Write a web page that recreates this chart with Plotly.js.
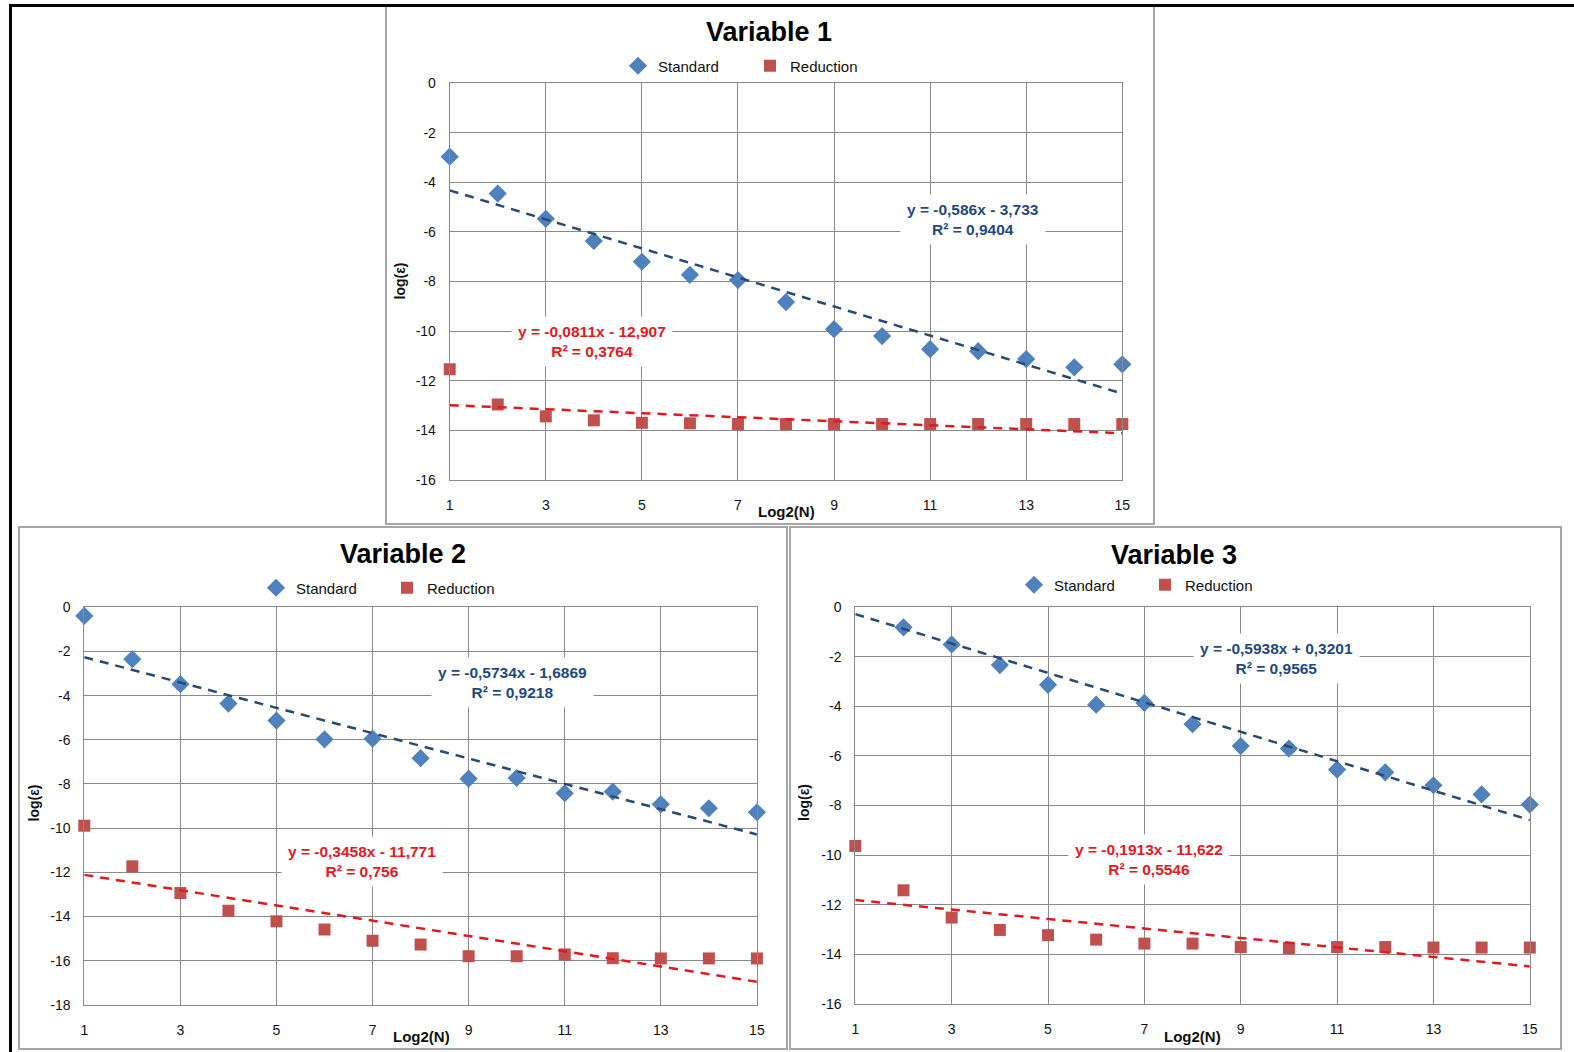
<!DOCTYPE html>
<html>
<head>
<meta charset="utf-8">
<script src="https://cdn.plot.ly/plotly-3.0.1.min.js"></script>
<style>
html,body{margin:0;padding:0;background:#fff;}
#chart{width:1574px;height:1052px;}
</style>
</head>
<body>
<div id="chart"></div>
<script>
// ---------------- DATA ----------------
const xLog2N = [1,2,3,4,5,6,7,8,9,10,11,12,13,14,15];

const titles = ['Variable 1','Variable 2','Variable 3'];
const seriesNames = ['Standard','Reduction'];

const v1Standard  = [-2.96,-4.45,-5.47,-6.36,-7.20,-7.73,-7.94,-8.83,-9.92,-10.20,-10.73,-10.81,-11.13,-11.46,-11.34];
const v1Reduction = [-11.54,-12.96,-13.44,-13.60,-13.70,-13.72,-13.75,-13.75,-13.75,-13.75,-13.75,-13.75,-13.75,-13.75,-13.75];

const v2Standard  = [-0.39,-2.35,-3.48,-4.36,-5.13,-5.98,-5.95,-6.83,-7.76,-7.73,-8.42,-8.35,-8.92,-9.10,-9.28];
const v2Reduction = [-9.89,-11.73,-12.94,-13.74,-14.22,-14.59,-15.10,-15.27,-15.80,-15.80,-15.72,-15.89,-15.90,-15.90,-15.90];

const v3Standard  = [1.00,-0.81,-1.50,-2.33,-3.13,-3.93,-3.86,-4.72,-5.60,-5.70,-6.55,-6.66,-7.18,-7.55,-7.96];
const v3Reduction = [-9.63,-11.42,-12.52,-13.02,-13.23,-13.41,-13.57,-13.57,-13.71,-13.75,-13.71,-13.71,-13.73,-13.73,-13.73];

// linear trendlines shown on the chart: [slope, intercept]
const v1TrendStandard  = [-0.586, -3.733];
const v1TrendReduction = [-0.0811, -12.907];
const v2TrendStandard  = [-0.5734, -1.6869];
const v2TrendReduction = [-0.3458, -11.771];
const v3TrendStandard  = [-0.5938, 0.3201];
const v3TrendReduction = [-0.1913, -11.622];

const v1LabelStandard  = 'y = -0,586x - 3,733<br>R² = 0,9404';
const v1LabelReduction = 'y = -0,0811x - 12,907<br>R² = 0,3764';
const v2LabelStandard  = 'y = -0,5734x - 1,6869<br>R² = 0,9218';
const v2LabelReduction = 'y = -0,3458x - 11,771<br>R² = 0,756';
const v3LabelStandard  = 'y = -0,5938x + 0,3201<br>R² = 0,9565';
const v3LabelReduction = 'y = -0,1913x - 11,622<br>R² = 0,5546';

const xTickVals = [1,3,5,7,9,11,13,15];
const xTickText = ['1','3','5','7','9','11','13','15'];
const yTickVals16 = [0,-2,-4,-6,-8,-10,-12,-14,-16];
const yTickText16 = ['0','-2','-4','-6','-8','-10','-12','-14','-16'];
const yTickVals18 = [0,-2,-4,-6,-8,-10,-12,-14,-16,-18];
const yTickText18 = ['0','-2','-4','-6','-8','-10','-12','-14','-16','-18'];

const xTitle = 'Log2(N)';
const yTitle = 'log(ε)';

// ---------------- STYLE / LAYOUT ----------------
const W = 1574, H = 1052;
const fx = p => p / W;
const fy = p => 1 - p / H;
const FONT = 'Liberation Sans Narrow, Arial Narrow, Liberation Sans, Arial, sans-serif';
const GRID = '#8a8a8a';
const BLUE = '#4F81BD', RED = '#C0504D';
const TBLUE = '#2A4A73', TRED = '#E3191E';
const LBLUE = '#1F497D', LRED = '#E3191E';

const panels = [
  {std: v1Standard, red: v1Reduction, tS: v1TrendStandard, tR: v1TrendReduction,
   lS: v1LabelStandard, lR: v1LabelReduction,
   plot: [449.7, 1122.3, 83.3, 479.8], yr: [-16, 0], yv: yTickVals16, yt: yTickText16,
   box: [386, 1154, 5, 524], title: [769, 32], leg: [618, 666, 750, 66],
   labS: [973, 219.5], labR: [592, 341.5], xt: [786, 512], yt2: [399.5, 281]},
  {std: v2Standard, red: v2Reduction, tS: v2TrendStandard, tR: v2TrendReduction,
   lS: v2LabelStandard, lR: v2LabelReduction,
   plot: [84.3, 756.9, 607.3, 1004.8], yr: [-18, 0], yv: yTickVals18, yt: yTickText18,
   box: [19, 787, 527, 1049], title: [402.5, 554], leg: [256, 304, 387, 588],
   labS: [512, 682], labR: [361.5, 861], xt: [421.5, 1036], yt2: [33.5, 803]},
  {std: v3Standard, red: v3Reduction, tS: v3TrendStandard, tR: v3TrendReduction,
   lS: v3LabelStandard, lR: v3LabelReduction,
   plot: [855.3, 1529.8, 607.3, 1003.8], yr: [-16, 0], yv: yTickVals16, yt: yTickText16,
   box: [790, 1561, 527, 1049], title: [1173.5, 555], leg: [1014, 1062, 1145, 585],
   labS: [1276, 658], labR: [1148.5, 859], xt: [1192.5, 1036], yt2: [804, 803]}
];

const traces = [];
const layout = {
  width: W, height: H,
  margin: {l: 0, r: 0, t: 0, b: 0},
  paper_bgcolor: '#ffffff', plot_bgcolor: '#ffffff',
  font: {family: FONT, color: '#000000', size: 14},
  showlegend: true,
  annotations: [], shapes: []
};

let legIdx = 1;
panels.forEach((p, i) => {
  const n = i === 0 ? '' : String(i + 1);
  const xa = 'x' + n, ya = 'y' + n;
  const lgA = legIdx === 1 ? 'legend' : 'legend' + legIdx;
  const lgB = 'legend' + (legIdx + 1);
  legIdx += 2;

  traces.push({
    type: 'scatter', mode: 'markers', x: xLog2N, y: p.std, name: seriesNames[0],
    xaxis: xa, yaxis: ya, legend: lgA, cliponaxis: false,
    marker: {symbol: 'diamond', size: 14, color: BLUE}
  });
  traces.push({
    type: 'scatter', mode: 'markers', x: xLog2N, y: p.red, name: seriesNames[1],
    xaxis: xa, yaxis: ya, legend: lgB, cliponaxis: false,
    marker: {symbol: 'square', size: 12, color: RED}
  });
  const x0 = xLog2N[0], x1 = xLog2N[xLog2N.length - 1];
  traces.push({
    type: 'scatter', mode: 'lines', x: [x0, x1], y: [p.tS[0]*x0 + p.tS[1], p.tS[0]*x1 + p.tS[1]],
    xaxis: xa, yaxis: ya, showlegend: false, hoverinfo: 'skip',
    line: {color: TBLUE, width: 2.5, dash: '9px,7px'}
  });
  traces.push({
    type: 'scatter', mode: 'lines', x: [x0, x1], y: [p.tR[0]*x0 + p.tR[1], p.tR[0]*x1 + p.tR[1]],
    xaxis: xa, yaxis: ya, showlegend: false, hoverinfo: 'skip',
    line: {color: TRED, width: 2.5, dash: '9px,7px'}
  });

  layout['xaxis' + n] = {
    domain: [fx(p.plot[0]), fx(p.plot[1])], anchor: ya,
    range: [1, 15], tickvals: xTickVals, ticktext: xTickText,
    showgrid: true, gridcolor: GRID, gridwidth: 1,
    showline: true, linecolor: GRID, linewidth: 1, mirror: true,
    zeroline: false, ticks: '', tickfont: {size: 14, family: FONT, color: '#111'},
    ticklabelstandoff: 12, fixedrange: true
  };
  layout['yaxis' + n] = {
    domain: [fy(p.plot[3]), fy(p.plot[2])], anchor: xa,
    range: p.yr, tickvals: p.yv, ticktext: p.yt,
    showgrid: true, gridcolor: GRID, gridwidth: 1,
    showline: true, linecolor: GRID, linewidth: 1, mirror: true,
    zeroline: false, ticks: '', tickfont: {size: 14, family: FONT, color: '#111'},
    ticklabelstandoff: 10, fixedrange: true
  };

  // legends (one entry each)
  layout[lgA] = {x: fx(p.leg[0]), y: fy(p.leg[3]), xanchor: 'left', yanchor: 'middle',
    orientation: 'h', bgcolor: 'rgba(0,0,0,0)', borderwidth: 0,
    font: {size: 15, family: FONT, color: '#111'}};
  layout[lgB] = {x: fx(p.leg[2]), y: fy(p.leg[3]), xanchor: 'left', yanchor: 'middle',
    orientation: 'h', bgcolor: 'rgba(0,0,0,0)', borderwidth: 0,
    font: {size: 15, family: FONT, color: '#111'}};

  // chart title
  layout.annotations.push({xref: 'paper', yref: 'paper', x: fx(p.title[0]), y: fy(p.title[1]),
    xanchor: 'center', yanchor: 'middle', showarrow: false, text: '<b>' + titles[i] + '</b>',
    font: {size: 27, family: FONT, color: '#000'}});
  // trendline labels
  layout.annotations.push({xref: 'paper', yref: 'paper', x: fx(p.labS[0]), y: fy(p.labS[1]),
    xanchor: 'center', yanchor: 'middle', showarrow: false, text: '<b>' + p.lS + '</b>',
    align: 'center', bgcolor: '#ffffff', borderpad: 6,
    font: {size: 15.5, family: FONT, color: LBLUE}});
  layout.annotations.push({xref: 'paper', yref: 'paper', x: fx(p.labR[0]), y: fy(p.labR[1]),
    xanchor: 'center', yanchor: 'middle', showarrow: false, text: '<b>' + p.lR + '</b>',
    align: 'center', bgcolor: '#ffffff', borderpad: 6,
    font: {size: 15.5, family: FONT, color: LRED}});
  // axis titles
  layout.annotations.push({xref: 'paper', yref: 'paper', x: fx(p.xt[0]), y: fy(p.xt[1]),
    xanchor: 'center', yanchor: 'middle', showarrow: false, text: '<b>' + xTitle + '</b>',
    font: {size: 15, family: FONT, color: '#111'}});
  layout.annotations.push({xref: 'paper', yref: 'paper', x: fx(p.yt2[0]), y: fy(p.yt2[1]),
    xanchor: 'center', yanchor: 'middle', showarrow: false, text: '<b>' + yTitle + '</b>',
    textangle: -90, font: {size: 14, family: FONT, color: '#111'}});

  // panel border
  layout.shapes.push({type: 'rect', xref: 'paper', yref: 'paper',
    x0: fx(p.box[0]), x1: fx(p.box[1]), y0: fy(p.box[3]), y1: fy(p.box[2]),
    line: {color: '#a6a6a6', width: 2}, layer: 'below'});
});

// outer black frame (top and left edges)
layout.shapes.push({type: 'line', xref: 'paper', yref: 'paper',
  x0: fx(9), x1: 1, y0: fy(5.5), y1: fy(5.5), line: {color: '#000', width: 3}});
layout.shapes.push({type: 'line', xref: 'paper', yref: 'paper',
  x0: fx(10.5), x1: fx(10.5), y0: fy(5), y1: 0, line: {color: '#000', width: 3}});

Plotly.newPlot('chart', traces, layout, {displayModeBar: false, staticPlot: true});
</script>
</body>
</html>
